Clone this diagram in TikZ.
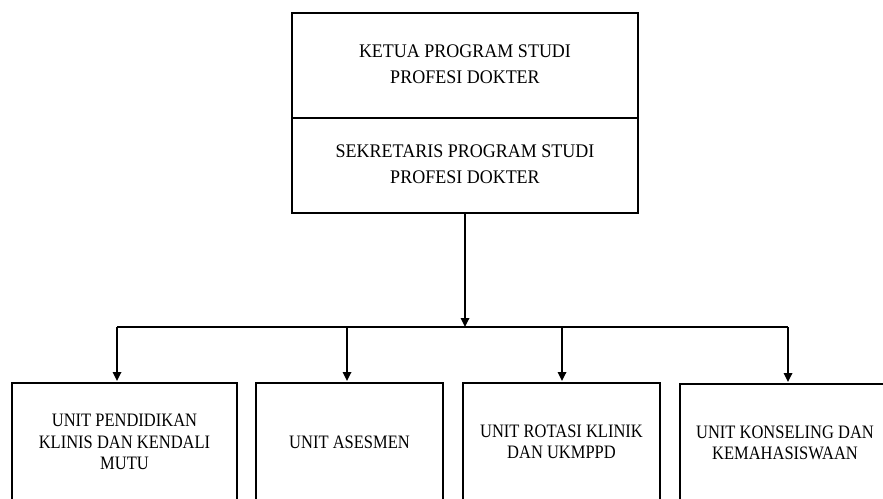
\documentclass[tikz,border=0pt]{standalone}
\usepackage{graphicx}
\usepackage{fontspec}
\setmainfont{Liberation Serif}
\usetikzlibrary{arrows.meta}
\newcommand{\vstretch}[2]{\scalebox{1}[#1]{\begin{tabular}{@{}c@{}}#2\end{tabular}}}
\begin{document}
\begin{tikzpicture}[x=1pt,y=-1pt,
 box/.style={draw, line width=1.5pt, outer sep=0pt, inner sep=0pt, align=center},
 topbox/.style={box, minimum width=346pt, font=\fontsize{18}{24.3}\selectfont},
 unitbox/.style={box, minimum height=122pt, font=\fontsize{16.5}{18.6}\selectfont},
 conn/.style={line width=1.7pt},
 arr/.style={conn, shorten >=2pt, -{Triangle[length=9pt,width=8.5pt]}}]
\useasboundingbox (0,0) rectangle (883,498);
\clip (0,0) rectangle (883,498);
\node[topbox, minimum height=105pt] (ketua) at (465,65.5) {\vstretch{1.07}{KETUA PROGRAM STUDI\\PROFESI DOKTER}};
\node[topbox, minimum height=95pt] (sek) at (465,165.5) {\vstretch{1.07}{SEKRETARIS PROGRAM STUDI\\PROFESI DOKTER}};
\draw[line width=2.7pt] (ketua.south west) -- (ketua.south east);
\node[unitbox, minimum width=225pt] (u1) at (124.5,444) {\vstretch{1.15}{UNIT PENDIDIKAN\\KLINIS DAN KENDALI\\MUTU}};
\node[unitbox, minimum width=187pt] (u2) at (349.5,444) {\vstretch{1.15}{UNIT ASESMEN}};
\node[unitbox, minimum width=197pt] (u3) at (561.5,444) {\vstretch{1.15}{UNIT ROTASI KLINIK\\DAN UKMPPD}};
\node[unitbox, minimum width=210pt] (u4) at (785,445) {\vstretch{1.15}{UNIT KONSELING DAN\\KEMAHASISWAAN}};
\coordinate (hub) at (sek.south |- 0,327);
\coordinate (b1) at (117,327);
\coordinate (b2) at (347,327);
\coordinate (b3) at (562,327);
\coordinate (b4) at (788,327);
\draw[arr, shorten >=0pt] (sek.south) -- (hub);
\draw[conn] (b1) -- (b4);
\draw[arr] (b1) -- (b1 |- u1.north);
\draw[arr] (b2) -- (b2 |- u2.north);
\draw[arr] (b3) -- (b3 |- u3.north);
\draw[arr] (b4) -- (b4 |- u4.north);
\end{tikzpicture}
\end{document}
